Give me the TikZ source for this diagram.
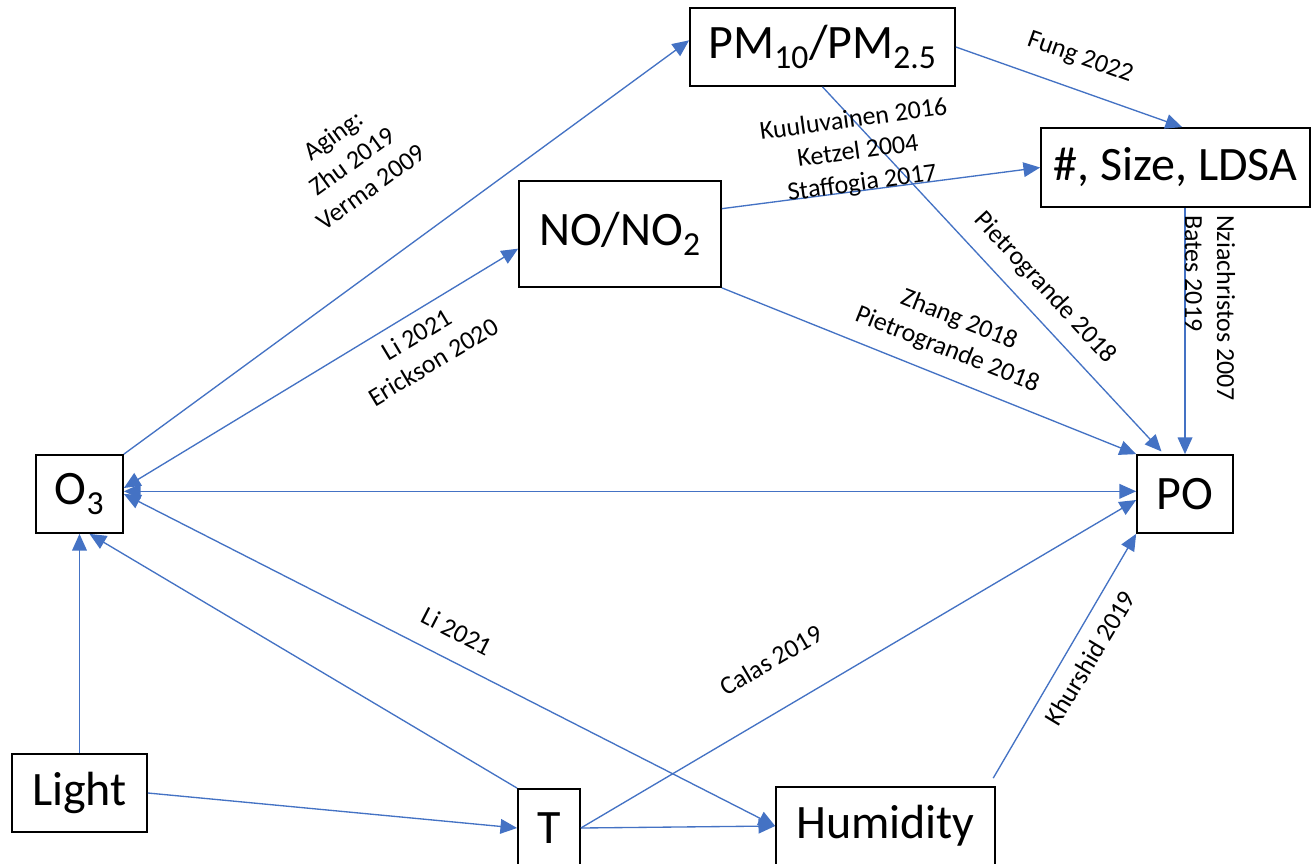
\documentclass[tikz,border=0pt]{standalone}
\usepackage{fontspec}
\setmainfont{Carlito}
\usetikzlibrary{arrows.meta}
\definecolor{edgeblue}{HTML}{4472C4}
\begin{document}
\begin{tikzpicture}[x=0.75pt,y=-0.75pt,
 box/.style={draw=black, line width=1.3pt, fill=white, inner sep=0pt, font=\fontsize{36}{40}\selectfont},
 conn/.style={draw=edgeblue, line width=1pt, -{Triangle[length=12.5pt,width=11pt]}},
 both/.style={draw=edgeblue, line width=1pt, {Triangle[length=12.5pt,width=11pt]}-{Triangle[length=12.5pt,width=11pt]}},
 lbl/.style={font=\fontsize{19.5}{24}\selectfont, align=center, inner sep=0pt}]
\useasboundingbox[fill=white] (0,0) rectangle (1312,863);
% nodes
\node[box, minimum width=198.75pt, minimum height=58.5pt] (PM) at (822.5,47) {PM\textsubscript{10}/PM\textsubscript{2.5}};
\node[box, minimum width=201.75pt, minimum height=59.25pt] (SZ) at (1175.5,167.5) {\#, Size, LDSA};
\node[box, minimum width=151.5pt, minimum height=79.5pt] (NO) at (620,234) {NO/NO\textsubscript{2}};
\node[box, minimum width=65.25pt, minimum height=58.5pt] (O3) at (79.5,494) {O\textsubscript{3}};
\node[box, minimum width=72pt, minimum height=58.5pt] (PO) at (1185,494) {PO};
\node[box, minimum width=101.25pt, minimum height=58.5pt] (Light) at (79.5,793) {Light};
\node[box, minimum width=46.5pt, minimum height=58.5pt] (T) at (549,828) {T};
\node[box, minimum width=164.25pt, minimum height=58.5pt] (Hum) at (885.5,826) {Humidity};
% connectors
\draw[conn] (O3.north east) -- ([yshift=5pt]PM.west);
\draw[both] ([yshift=4.5pt]O3.east) -- ([yshift=-11pt]NO.west);
\draw[both] ([yshift=2pt]O3.east) -- ([yshift=2pt]PO.west);
\draw[both] (O3.east) -- (Hum.west);
\draw[conn] (T.north west) -- ([xshift=7.5pt]O3.south);
\draw[conn] (Light.north) -- (O3.south);
\draw[conn] (Light.east) -- (T.west);
\draw[conn] (T.east) -- (Hum.west);
\draw[conn] (T.east) -- ([yshift=-4.5pt]PO.west);
\draw[conn] ([xshift=-2pt,yshift=6pt]Hum.north east) -- (PO.south west);
\draw[conn] (NO.south east) -- (PO.north west);
\draw[conn] (PM.south) -- ([xshift=19pt,yshift=2pt]PO.north west);
\draw[conn] (PO.north |- SZ.south) -- (PO.north);
\draw[conn] ([yshift=19pt]NO.east) -- (SZ.west);
\draw[conn] (PM.east) -- ([xshift=5pt]SZ.north);
% labels
\node[lbl, rotate=36] (lAging) at (352,161) {Aging:\\Zhu 2019\\Verma 2009};
\node[lbl, rotate=7.8] (lKuu) at (858,152) {Kuuluvainen 2016\\Ketzel 2004\\Staffogia 2017};
\node[lbl, rotate=-19.6] (lFung) at (1080,58) {Fung 2022};
\node[lbl, rotate=-47.3] (lPiet) at (1045,288) {Pietrogrande 2018};
\node[lbl, rotate=-21.6] (lZhang) at (953,335) {Zhang 2018\\Pietrogrande 2018};
\node[lbl, rotate=-90, align=left] (lNzi) at (1210,308) {Nziachristos 2007\\Bates 2019};
\node[lbl, rotate=31] (lLiE) at (425,348) {Li 2021\\Erickson 2020};
\node[lbl, rotate=-27.2] (lLi) at (457,631) {Li 2021};
\node[lbl, rotate=30.3] (lCalas) at (771,660) {Calas 2019};
\node[lbl, rotate=59] (lKhur) at (1090,658) {Khurshid 2019};
\end{tikzpicture}
\end{document}
